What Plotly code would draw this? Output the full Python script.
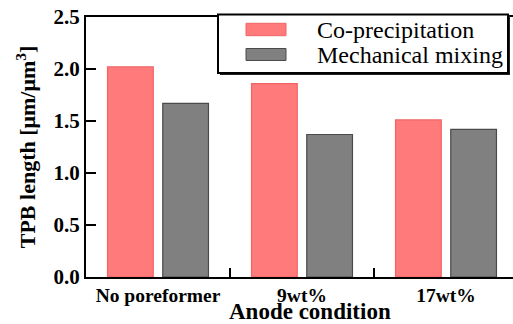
import plotly.graph_objects as go

# Data: TPB length per anode condition for the two preparation routes
conditions = ["No poreformer", "9wt%", "17wt%"]
series_names = ["Co-precipitation", "Mechanical mixing"]
co_precipitation = [2.02, 1.86, 1.51]
mechanical_mixing = [1.67, 1.37, 1.42]
y_ticks = [0.0, 0.5, 1.0, 1.5, 2.0, 2.5]

W, H = 513, 324
L, T, R, B = 86, 17, 513, 277          # plot area in pixels
CAT_PX = 144                           # width of one category in pixels

RED_FILL, RED_LINE = "#ff7b7b", "#f06464"
GRAY_FILL, GRAY_LINE = "#808080", "#4a4a4a"
SERIF = "Liberation Serif"


def px(x):
    return (x - L) / (R - L)


def py(y):
    return (B - y) / (B - T)


fig = go.Figure()
fig.add_trace(go.Bar(x=conditions, y=co_precipitation, name=series_names[0],
                     marker=dict(color=RED_FILL, line=dict(color=RED_LINE, width=1.2))))
fig.add_trace(go.Bar(x=conditions, y=mechanical_mixing, name=series_names[1],
                     marker=dict(color=GRAY_FILL, line=dict(color=GRAY_LINE, width=1.2))))

# Hand-drawn legend box with wide swatches and a small drop shadow
shapes = [
    dict(type="rect", xref="paper", yref="paper", layer="above",
         x0=px(220), x1=px(510), y0=py(75), y1=py(16),
         fillcolor="#222", line=dict(width=0)),
    dict(type="rect", xref="paper", yref="paper", layer="above",
         x0=px(218), x1=px(508), y0=py(73), y1=py(14.5),
         fillcolor="white", line=dict(color="black", width=2)),
    dict(type="rect", xref="paper", yref="paper", layer="above",
         x0=px(246), x1=px(286), y0=py(35.7), y1=py(23.3),
         fillcolor=RED_FILL, line=dict(color=RED_LINE, width=1)),
    dict(type="rect", xref="paper", yref="paper", layer="above",
         x0=px(246), x1=px(286), y0=py(60.5), y1=py(48.5),
         fillcolor=GRAY_FILL, line=dict(color=GRAY_LINE, width=1)),
]
annotations = [
    dict(text=series_names[0], xref="paper", yref="paper", x=px(315), y=py(29.5),
         xanchor="left", yanchor="middle", showarrow=False,
         font=dict(family=SERIF, size=24, color="black")),
    dict(text=series_names[1], xref="paper", yref="paper", x=px(315), y=py(54.5),
         xanchor="left", yanchor="middle", showarrow=False,
         font=dict(family=SERIF, size=24, color="black")),
    dict(text="<b>Anode condition</b>", xref="paper", yref="paper", x=px(310), y=py(311.5),
         xanchor="center", yanchor="middle", showarrow=False,
         font=dict(family=SERIF, size=23, color="black")),
]

fig.update_layout(
    width=W, height=H,
    margin=dict(l=L, r=W - R, t=T, b=H - B, pad=0),
    paper_bgcolor="white", plot_bgcolor="white",
    font=dict(family=SERIF, color="black"),
    barmode="group", bargap=0.233, bargroupgap=0.172,
    showlegend=False,
    shapes=shapes, annotations=annotations,
    xaxis=dict(
        type="category", range=[-0.5, -0.5 + (R - L) / CAT_PX],
        tickson="boundaries", ticks="inside", ticklen=9, tickwidth=2, tickcolor="black",
        showline=True, linewidth=2, linecolor="black", mirror=True,
        showgrid=False, zeroline=False,
        tickvals=conditions, ticktext=["<b>%s</b>" % c for c in conditions],
        tickfont=dict(family=SERIF, size=19.5, color="black"),
    ),
    yaxis=dict(
        range=[0, 2.5], tickvals=y_ticks, ticktext=["<b>%.1f</b>" % v for v in y_ticks],
        ticks="inside", ticklen=10, tickwidth=2, tickcolor="black",
        showline=True, linewidth=2, linecolor="black",
        showgrid=False, zeroline=False,
        tickfont=dict(family=SERIF, size=21, color="black"),
        title=dict(text="<b>TPB length [μm/μm<sup>3</sup>]</b>", standoff=12,
                   font=dict(family=SERIF, size=22, color="black")),
    ),
)

fig.write_html("out.html")
